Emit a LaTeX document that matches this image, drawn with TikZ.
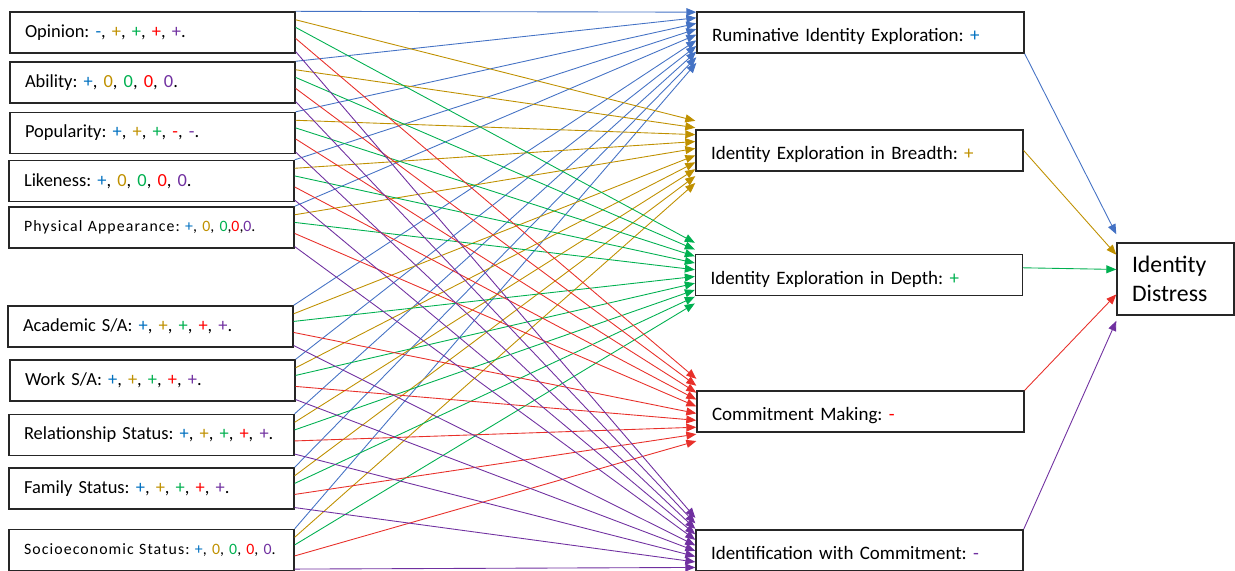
\documentclass[tikz,border=0pt]{standalone}
\usepackage{fontspec}
\setmainfont{Carlito}
\usepackage{tikz}
\usetikzlibrary{arrows.meta,calc}

\definecolor{cblue}{HTML}{4472C4}
\definecolor{cgold}{HTML}{BF9000}
\definecolor{cgreen}{HTML}{00B050}
\definecolor{cred}{HTML}{E8302A}
\definecolor{cpurple}{HTML}{7030A0}
\definecolor{sblue}{HTML}{0070C0}
\definecolor{sred}{HTML}{FF0000}

\newcommand{\sgB}[1]{\textcolor{sblue}{#1}}
\newcommand{\sgY}[1]{\textcolor{cgold}{#1}}
\newcommand{\sgG}[1]{\textcolor{cgreen}{#1}}
\newcommand{\sgR}[1]{\textcolor{sred}{#1}}
\newcommand{\sgP}[1]{\textcolor{cpurple}{#1}}

\frenchspacing

\begin{document}
\begin{tikzpicture}[
    x=0.02cm, y=-0.02cm,
    lbox/.style={draw=black!85, line width=0.8pt, minimum width=5.7cm, minimum height=0.82cm, text width=5.1cm, inner xsep=0.3cm, align=left, font=\fontsize{10.5}{12}\selectfont},
    sbox/.style={lbox, font=\fontsize{9}{11}\selectfont\addfontfeature{LetterSpace=7}},
    rbox/.style={lbox, minimum width=6.54cm, text width=5.94cm, text height=1.2em, text depth=0.13em, font=\fontsize{10.8}{13}\selectfont},
    dbox/.style={draw=black!85, line width=0.8pt, minimum width=2.34cm, minimum height=1.44cm, text width=1.74cm, inner xsep=0.3cm, align=left, font=\fontsize{13.5}{16.5}\selectfont},
    arr/.style={-{Triangle[length=2mm, width=1.6mm]}, line width=0.5pt}
]
    \useasboundingbox (0,0) rectangle (1235,571);

    % predictors
    \node[lbox] (l1)  at (152.5, 32.5) {Opinion: \sgB{-}, \sgY{+}, \sgG{+}, \sgR{+}, \sgP{+}.};
    \node[lbox] (l2)  at (152.5, 82.5) {Ability: \sgB{+}, \sgY{0}, \sgG{0}, \sgR{0}, \sgP{0}.};
    \node[lbox] (l3)  at (152.5,133)   {Popularity: \sgB{+}, \sgY{+}, \sgG{+}, \sgR{-}, \sgP{-}.};
    \node[lbox] (l4)  at (151.5,181)   {Likeness: \sgB{+}, \sgY{0}, \sgG{0}, \sgR{0}, \sgP{0}.};
    \node[sbox] (l5)  at (151.5,227.5) {Physical Appearance: \sgB{+}, \sgY{0}, \sgG{0},\sgR{0},\sgP{0}.};
    \node[lbox] (l6)  at (150.5,326.5) {Academic S/A: \sgB{+}, \sgY{+}, \sgG{+}, \sgR{+}, \sgP{+}.};
    \node[lbox] (l7)  at (152.5,380.5) {Work S/A: \sgB{+}, \sgY{+}, \sgG{+}, \sgR{+}, \sgP{+}.};
    \node[lbox] (l8)  at (151.5,435)   {Relationship Status: \sgB{+}, \sgY{+}, \sgG{+}, \sgR{+}, \sgP{+}.};
    \node[lbox] (l9)  at (151.5,488.5) {Family Status: \sgB{+}, \sgY{+}, \sgG{+}, \sgR{+}, \sgP{+}.};
    \node[sbox] (l10) at (151.5,550)   {Socioeconomic Status: \sgB{+}, \sgY{0}, \sgG{0}, \sgR{0}, \sgP{0}.};

    % mediators
    \node[rbox] (r1) at (860.5, 32.5) {Ruminative Identity Exploration: \sgB{+}};
    \node[rbox] (r2) at (859.5,150.5) {Identity Exploration in Breadth: \sgY{+}};
    \node[rbox] (r3) at (859,  275)   {Identity Exploration in Depth: \sgG{+}};
    \node[rbox] (r4) at (860.5,411.5) {Commitment Making: \sgR{-}};
    \node[rbox] (r5) at (859.5,550.5) {Identification with Commitment: \sgP{-}};

    % outcome
    \node[dbox] (dist) at (1175.5,279) {Identity\\Distress};

    % predictor -> mediator paths (start on predictor, spread of heads on mediator)
    \foreach \j/\c/\f/\b/\s in {1/cblue/0.0/0.02/0.133, 2/cgold/0.2/-0.2/0.163, 3/cgreen/0.38/-0.26/0.159,
                                4/cred/0.64/-0.27/0.163, 5/cpurple/0.95/-0.27/0.13}
        \foreach \i in {1,...,10} {
            \pgfmathsetmacro\g{\b+\s*(\i-1)}
            \draw[arr, \c] ($(l\i.north east)!\f!(l\i.south east)$) -- ($(r\j.north west)!\g!(r\j.south west)$);
        }

    % mediator -> outcome paths
    \draw[arr, cblue]   (r1.south east) -- ($(dist.north west)!-0.11!(dist.south west)$);
    \draw[arr, cgold]   (r2.east) -- ($(dist.north west)!0.17!(dist.south west)$);
    \draw[arr, cgreen]  ($(r3.north east)!0.33!(r3.south east)$) -- ($(dist.north west)!0.37!(dist.south west)$);
    \draw[arr, cred]    (r4.north east) -- ($(dist.north west)!0.71!(dist.south west)$);
    \draw[arr, cpurple] (r5.north east) -- ($(dist.north west)!1.07!(dist.south west)$);
\end{tikzpicture}
\end{document}
